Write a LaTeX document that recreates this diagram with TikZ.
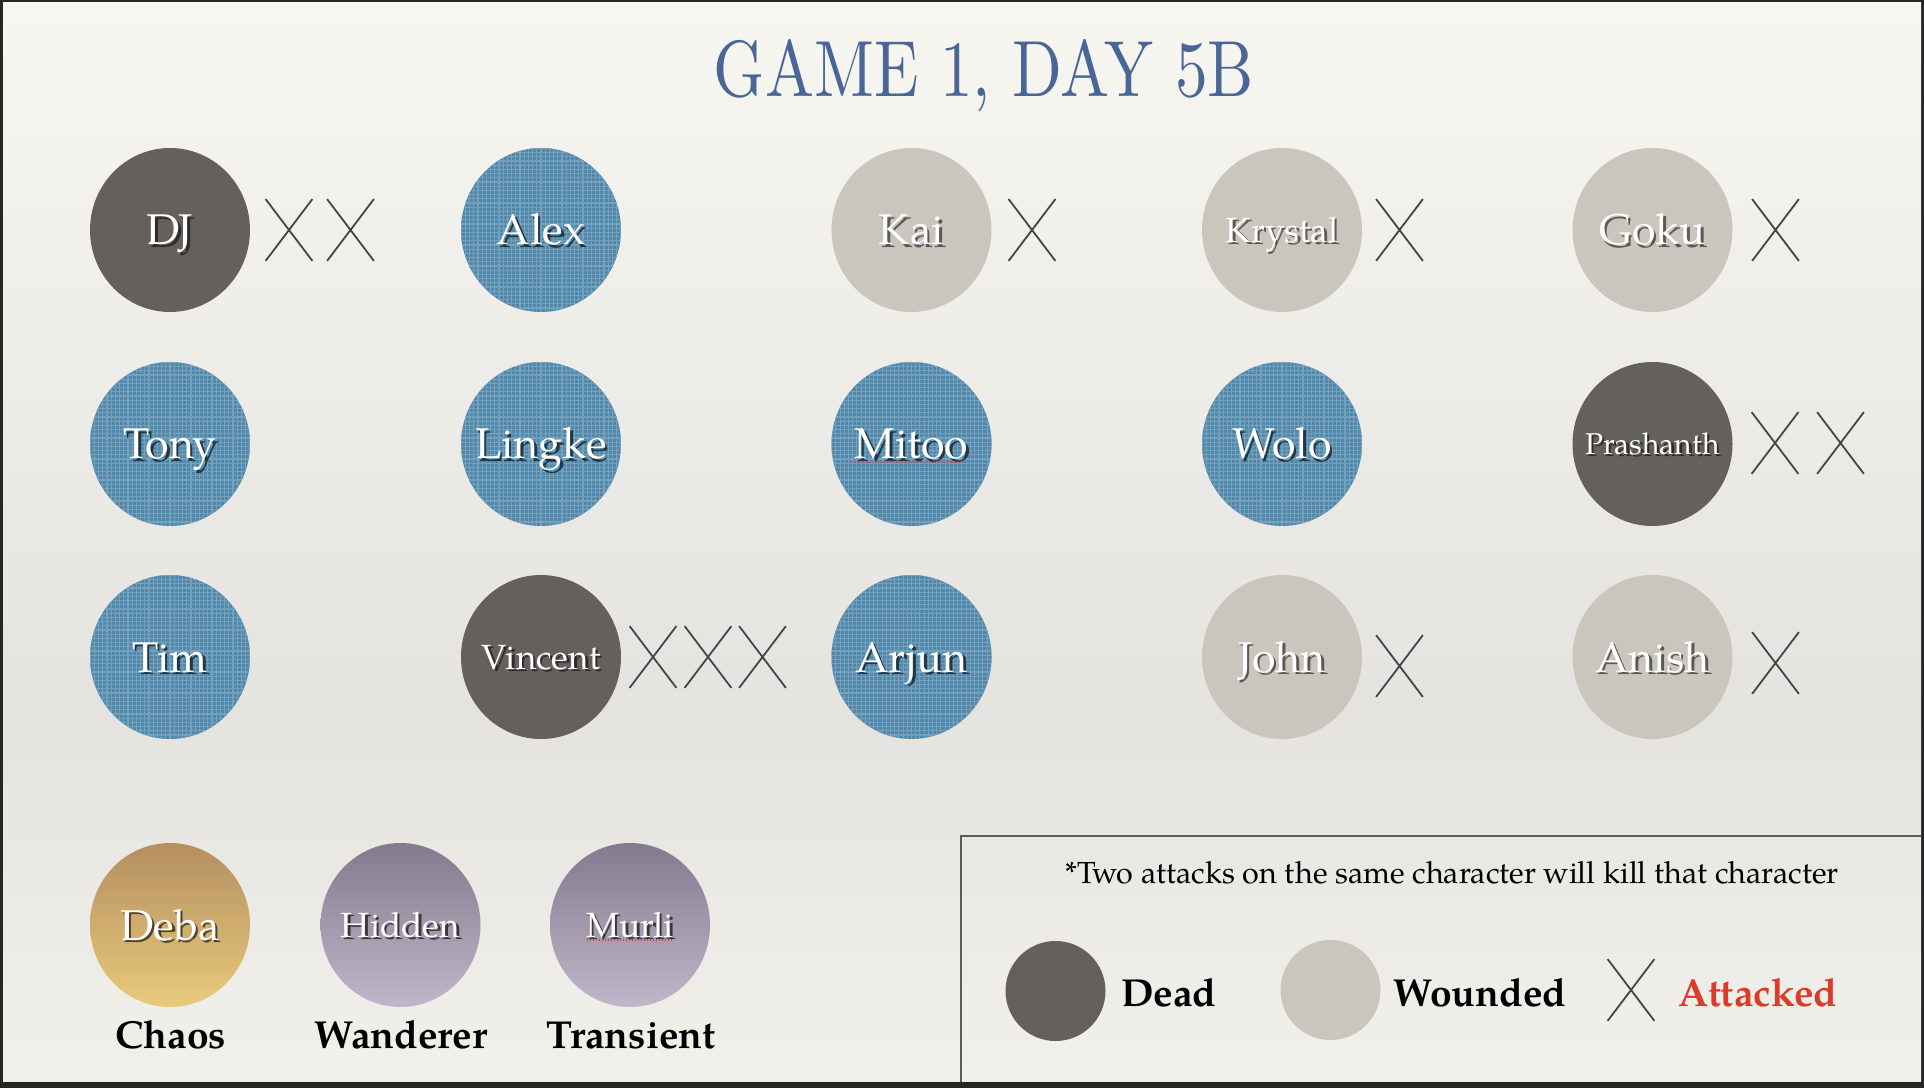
\documentclass[tikz,border=0pt]{standalone}
\usepackage{fontspec}
\usepackage{graphicx}
\setmainfont{TeX Gyre Pagella}
\newfontfamily\titlefont{Latin Modern Roman}
\usetikzlibrary{shapes.geometric,shapes.misc}

\definecolor{frame}{HTML}{262626}
\definecolor{paperhi}{HTML}{F8F6F1}
\definecolor{papermid}{HTML}{E5E3DF}
\definecolor{paperlo}{HTML}{F2F0EB}
\definecolor{titleblue}{HTML}{4A6697}
\definecolor{deadfill}{HTML}{64615D}
\definecolor{woundfill}{HTML}{CBC6BD}
\definecolor{alivefill}{HTML}{5289AB}
\definecolor{alivegrid}{HTML}{74A2BE}
\definecolor{chaostop}{HTML}{B48F60}
\definecolor{chaosbot}{HTML}{E9CA7B}
\definecolor{roguetop}{HTML}{847A8E}
\definecolor{roguebot}{HTML}{C1B7CA}
\definecolor{hitmark}{HTML}{454545}
\definecolor{attackred}{HTML}{DC3B2C}
\definecolor{keyline}{HTML}{5C5C5C}
\colorlet{dropcol}{black!60}

% paper: light at the top, greyer band about a third up, light again at the foot
\pgfdeclareverticalshading{paperfade}{100bp}{color(0bp)=(paperlo); color(25bp)=(paperlo); color(42bp)=(papermid); color(75bp)=(paperhi); color(100bp)=(paperhi)}

% white name with a dark drop shadow, zero width so the ellipse keeps its size
\newcommand\embossed[1]{\makebox[0pt]{\rlap{\kern2.5pt\raisebox{-2.5pt}{\textcolor{dropcol}{#1}}}#1}}

\tikzset{
  player/.style={ellipse, inner sep=0pt, minimum width=160pt, minimum height=164pt,
    text=white, font=\fontsize{43}{43}\selectfont, text height=30pt, text depth=0pt},
  dead/.style={player, fill=deadfill, execute at begin node={\colorlet{dropcol}{deadfill!45!black}}},
  wounded/.style={player, fill=woundfill, execute at begin node={\colorlet{dropcol}{woundfill!45!black}}},
  alive/.style={player, fill=alivefill,
    path picture={\draw[alivegrid, line width=1.1pt, step=4.2pt] (path picture bounding box.south west) grid (path picture bounding box.north east);},
    execute at begin node={\colorlet{dropcol}{alivefill!40!black}}},
  chaos/.style={player, top color=chaostop, bottom color=chaosbot, execute at begin node={\colorlet{dropcol}{chaostop!45!black}}},
  rogue/.style={player, top color=roguetop, bottom color=roguebot, execute at begin node={\colorlet{dropcol}{roguetop!45!black}}},
  midname/.style={font=\fontsize{35}{35}\selectfont, text height=24.5pt},
  smallname/.style={font=\fontsize{30}{30}\selectfont, text height=21pt},
  hit/.style={cross out, draw=hitmark, line width=1.8pt, minimum width=45pt, minimum height=60pt, inner sep=0pt},
  spellmark/.style={draw=attackred, line width=1.6pt, dash pattern=on 1.4pt off 1.6pt},
  keydot/.style={circle, inner sep=0pt, minimum size=100pt},
  keyword/.style={inner sep=0pt, font=\fontsize{39}{39}\selectfont\bfseries},
  keynote/.style={inner sep=0pt, font=\fontsize{30.5}{30.5}\selectfont}
}

\begin{document}
\begin{tikzpicture}[scale=1.000000,x=1pt,y=1pt]
\useasboundingbox (0.000000, 0.000000) rectangle (1924.000000, 1088.000000);
% Drawing paper
\fill[frame] (0.000000, 0.000000) rectangle (1924.000000, 1088.000000);
\shade[shading=paperfade] (3.000000, 6.500000) rectangle (1921.000000, 1085.000000);
\node[anchor=base, inner sep=0pt, text=titleblue] (title) at (984.000000, 991.000000) {\resizebox{540pt}{57pt}{\titlefont GAME 1, DAY 5B}};
% Row 1: DJ Alex Kai Krystal Goku
\node[dead] (dj) at (170.000000, 858.000000) {\embossed{DJ}};
\node[hit] (djhit1) at (289.000000, 858.000000) {};
\node[hit] (djhit2) at (350.500000, 858.000000) {};
\node[alive] (alex) at (541.000000, 858.000000) {\embossed{Alex}};
\node[wounded] (kai) at (911.500000, 858.000000) {\embossed{Kai}};
\node[hit] (kaihit) at (1032.000000, 858.000000) {};
\node[wounded, midname] (krystal) at (1282.000000, 858.000000) {\embossed{Krystal}};
\node[hit] (krystalhit) at (1399.500000, 858.000000) {};
\node[wounded] (goku) at (1652.500000, 858.000000) {\embossed{Goku}};
\node[hit] (gokuhit) at (1775.500000, 858.000000) {};
% Row 2: Tony Lingke Mitoo Wolo Prashanth
\node[alive] (tony) at (170.000000, 644.000000) {\embossed{Tony}};
\node[alive] (lingke) at (541.000000, 644.000000) {\embossed{Lingke}};
\node[alive] (mitoo) at (911.500000, 644.000000) {\embossed{Mitoo}};
\draw[spellmark] ([shift={(-58.000000,-18.500000)}]mitoo.center) -- ([shift={(55.000000,-18.500000)}]mitoo.center);
\node[alive] (wolo) at (1282.000000, 644.000000) {\embossed{Wolo}};
\node[dead, smallname] (prashanth) at (1652.500000, 644.000000) {\embossed{Prashanth}};
\node[hit] (prashanthhit1) at (1775.000000, 645.000000) {};
\node[hit] (prashanthhit2) at (1840.500000, 645.000000) {};
% Row 3: Tim Vincent Arjun John Anish
\node[alive] (tim) at (170.000000, 431.000000) {\embossed{Tim}};
\node[dead, midname] (vincent) at (541.000000, 431.000000) {\embossed{Vincent}};
\node[hit] (vincenthit1) at (653.000000, 431.000000) {};
\node[hit] (vincenthit2) at (708.000000, 431.000000) {};
\node[hit] (vincenthit3) at (762.500000, 431.000000) {};
\node[alive] (arjun) at (911.500000, 431.000000) {\embossed{Arjun}};
\node[wounded] (john) at (1282.000000, 431.000000) {\embossed{John}};
\node[hit] (johnhit) at (1399.500000, 422.000000) {};
\node[wounded] (anish) at (1652.500000, 431.000000) {\embossed{Anish}};
\node[hit] (anishhit) at (1775.500000, 425.000000) {};
% Done with rows; drawing factions
\node[chaos] (deba) at (170.000000, 163.000000) {\embossed{Deba}};
\node[keyword, anchor=base] (chaoslabel) at (171.000000, 40.000000) {Chaos};
\node[rogue, midname] (hidden) at (400.500000, 163.000000) {\embossed{Hidden}};
\node[keyword, anchor=base] (wandererlabel) at (401.000000, 40.000000) {Wanderer};
\node[rogue, midname] (murli) at (630.000000, 163.000000) {\embossed{Murli}};
\draw[spellmark] ([shift={(-43.000000,-15.000000)}]murli.center) -- ([shift={(42.000000,-15.000000)}]murli.center);
\node[keyword, anchor=base] (transientlabel) at (631.000000, 40.000000) {Transient};
% Done with factions; drawing key
\draw[keyline, line width=2pt] (961.000000, 6.500000) -- (961.000000, 252.000000) -- (1921.000000, 252.000000);
\node[keynote, anchor=base west] (rule) at (1065.000000, 204.700000) {*Two attacks on the same character will kill that character};
\node[keydot, fill=deadfill] (deadkey) at (1055.500000, 97.000000) {};
\node[keyword, anchor=base west] (deadlabel) at (1121.000000, 81.300000) {Dead};
\node[keydot, fill=woundfill] (woundkey) at (1330.500000, 98.000000) {};
\node[keyword, anchor=base west] (woundlabel) at (1393.000000, 81.300000) {Wounded};
\node[hit] (attackkey) at (1631.000000, 98.000000) {};
\node[keyword, anchor=base west, text=attackred] (attacklabel) at (1678.000000, 81.300000) {Attacked};
% Done with key
\end{tikzpicture}
\end{document}
